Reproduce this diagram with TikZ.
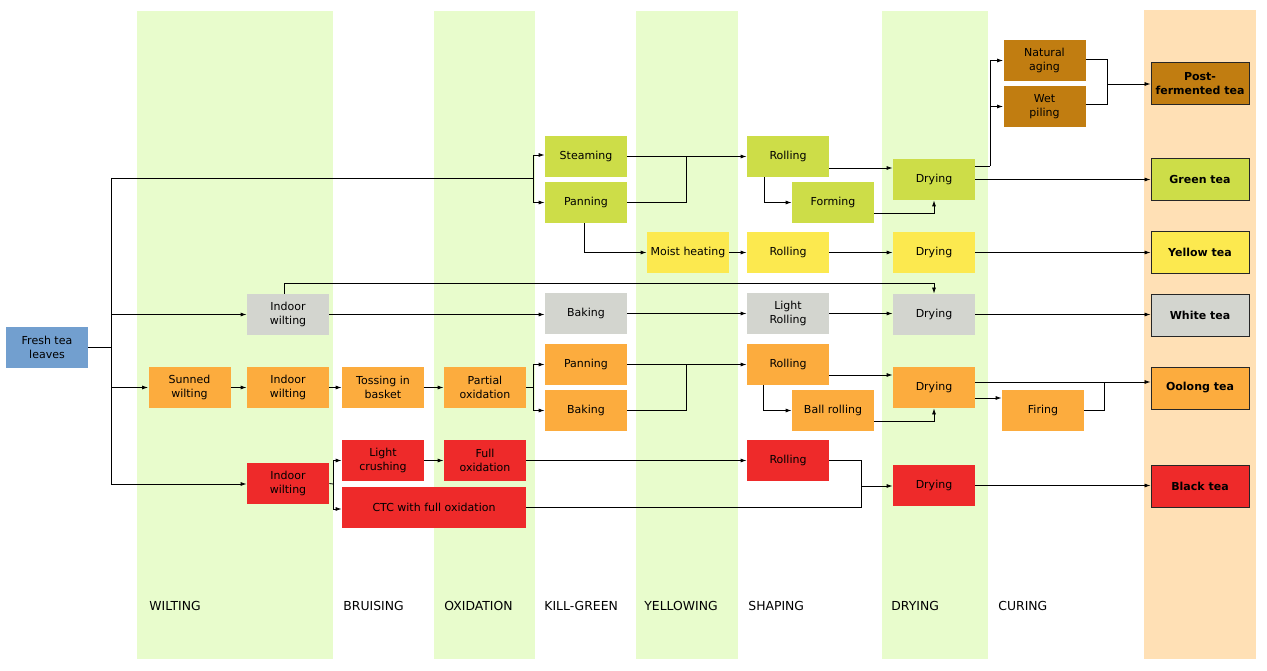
\documentclass[tikz,border=0pt]{standalone}
\usepackage{fontspec}
\setmainfont{DejaVu Sans}
\usetikzlibrary{arrows.meta,calc}
\definecolor{band}{RGB}{232,252,204}
\definecolor{bandend}{RGB}{255,224,181}
\definecolor{cg}{RGB}{205,221,72}
\definecolor{cy}{RGB}{252,233,79}
\definecolor{cw}{RGB}{211,213,207}
\definecolor{co}{RGB}{252,172,62}
\definecolor{cr}{RGB}{238,42,42}
\definecolor{cbr}{RGB}{193,125,17}
\definecolor{cbl}{RGB}{114,159,207}
\begin{document}
\begin{tikzpicture}[x=1pt,y=-1pt,
  box/.style={minimum width=82pt,minimum height=41pt,inner sep=0pt,align=center,
    font=\fontsize{11}{14}\selectfont},
  final/.style={box,minimum width=98pt,minimum height=42pt,draw=black!85,line width=0.9pt,
    font=\fontsize{11}{14}\selectfont\bfseries},
  arr/.style={-{Latex[length=6pt,width=4pt]}},
  lab/.style={anchor=base west,inner sep=0pt,font=\fontsize{12.4}{14}\selectfont},
  every path/.style={line width=0.8pt}]
\useasboundingbox (0,0) rectangle (1267,671);
% bands
\fill[band] (137,11) rectangle (333,659);
\fill[band] (434,11) rectangle (535,659);
\fill[band] (636,11) rectangle (738,659);
\fill[band] (882,11) rectangle (988,659);
\fill[bandend] (1144,10) rectangle (1256,659);
% stage labels
\node[lab] (lw) at (149,610) {WILTING};
\node[lab] (lb) at (343,610) {BRUISING};
\node[lab] (lo) at (444,610) {OXIDATION};
\node[lab] (lk) at (544,610) {KILL-GREEN};
\node[lab] (ly) at (644,610) {YELLOWING};
\node[lab] (ls) at (748,610) {SHAPING};
\node[lab] (ld) at (891,610) {DRYING};
\node[lab] (lc) at (998,610) {CURING};
% nodes
\node[box,fill=cbl] (fresh) at (47,347) {Fresh tea\\leaves};
% green
\node[box,fill=cg] (steamG) at (586,156.5) {Steaming};
\node[box,fill=cg] (panG) at (586,202.5) {Panning};
\node[box,fill=cg] (rolG) at (788,156.5) {Rolling};
\node[box,fill=cg] (formG) at (833,202.5) {Forming};
\node[box,fill=cg] (dryG) at (934,179.5) {Drying};
\node[final,fill=cg] (green) at (1200,179) {Green tea};
% brown
\node[box,fill=cbr] (natB) at (1044.5,60.5) {Natural\\aging};
\node[box,fill=cbr] (wetB) at (1044.5,106.5) {Wet\\piling};
\node[final,fill=cbr] (post) at (1200,83.5) {Post-\\fermented tea};
% yellow
\node[box,fill=cy] (moistY) at (688,252.5) {Moist heating};
\node[box,fill=cy] (rolY) at (788,252.5) {Rolling};
\node[box,fill=cy] (dryY) at (934,252.5) {Drying};
\node[final,fill=cy] (yellow) at (1200,252) {Yellow tea};
% white
\node[box,fill=cw] (wiW) at (288,314.5) {Indoor\\wilting};
\node[box,fill=cw] (bakW) at (586,313.5) {Baking};
\node[box,fill=cw] (lrolW) at (788,313.5) {Light\\Rolling};
\node[box,fill=cw] (dryW) at (934,314.5) {Drying};
\node[final,fill=cw] (white) at (1200,315) {White tea};
% oolong
\node[box,fill=co] (sunO) at (189.5,387.5) {Sunned\\wilting};
\node[box,fill=co] (wiO) at (288,387.5) {Indoor\\wilting};
\node[box,fill=co] (tossO) at (383,387.5) {Tossing in\\basket};
\node[box,fill=co] (partO) at (485,387.5) {Partial\\oxidation};
\node[box,fill=co] (panO) at (586,364.5) {Panning};
\node[box,fill=co] (bakO) at (586,410.5) {Baking};
\node[box,fill=co] (rolO) at (788,364.5) {Rolling};
\node[box,fill=co] (ballO) at (833,410.5) {Ball rolling};
\node[box,fill=co] (dryO) at (934,387.5) {Drying};
\node[box,fill=co] (firO) at (1043,410.5) {Firing};
\node[final,fill=co] (oolong) at (1200,388) {Oolong tea};
% black
\node[box,fill=cr] (wiR) at (288,483.5) {Indoor\\wilting};
\node[box,fill=cr] (crushR) at (383,460.5) {Light\\crushing};
\node[box,fill=cr,minimum width=184pt] (ctcR) at (434,507) {CTC with full oxidation};
\node[box,fill=cr] (fullR) at (485,460.5) {Full\\oxidation};
\node[box,fill=cr] (rolR) at (788,460.5) {Rolling};
\node[box,fill=cr] (dryR) at (934,485.5) {Drying};
\node[final,fill=cr] (black) at (1200,486) {Black tea};
% coordinates
\coordinate (ttop) at (111,178);
\coordinate (tbot) at (111,484);
\coordinate (sg) at (533,178);
\coordinate (gj) at (686,0);
\coordinate (bj) at (990,166);
\coordinate (pj) at (1107,84);
\coordinate (oj) at (533,387.5);
\coordinate (fj) at (1104,382);
\coordinate (rj) at (333,484);
\coordinate (bk) at (861,486);
% trunk
\draw (ttop) -- (tbot);
\draw (fresh.east) -- (fresh.east -| ttop);
\draw[arr] (wiW.west -| ttop) -- (wiW.west);
\draw[arr] (sunO.west -| ttop) -- (sunO.west);
\draw[arr] (tbot) -- (tbot -| wiR.west);
% green
\draw (ttop) -- (sg);
\draw[arr] (sg) |- ([yshift=1.5pt]steamG.west);
\draw[arr] (sg) |- (panG.west);
\draw[arr] (steamG.east) -- (rolG.west);
\draw (panG.east) -| (gj |- steamG.east);
\draw[arr] ([xshift=-2pt]panG.south) |- (moistY.west);
\draw[arr] ([yshift=-11.5pt]rolG.east) -- ([yshift=-11.5pt]rolG.east -| dryG.west);
\draw[arr] ([xshift=-24pt]rolG.south) |- (formG.west);
\draw[arr] ([yshift=-10.5pt]formG.east) -| (dryG.south);
\draw[arr] (dryG.east) -- (dryG.east -| green.west);
\draw ([yshift=13.5pt]dryG.east) -- (bj);
\draw[arr] (bj) |- (natB.west);
\draw[arr] (bj) |- (wetB.west);
\draw ([yshift=1.5pt]natB.east) -| (pj);
\draw ([yshift=2.5pt]wetB.east) -| (pj);
\draw[arr] (pj) -- (pj -| post.west);
% yellow
\draw[arr] (moistY) -- (rolY);
\draw[arr] (rolY) -- (dryY);
\draw[arr] (dryY.east) -- (dryY.east -| yellow.west);
% white
\draw[arr] (wiW.east) -- (wiW.east -| bakW.west);
\draw[arr] ([xshift=-4pt]wiW.north) |- ([yshift=10pt]dryW.north) -- (dryW.north);
\draw[arr] (bakW) -- (lrolW);
\draw[arr] (lrolW.east) -- (lrolW.east -| dryW.west);
\draw[arr] (dryW.east) -- (dryW.east -| white.west);
% oolong
\draw[arr] (sunO) -- (wiO);
\draw[arr] (wiO) -- (tossO);
\draw[arr] (tossO) -- (partO);
\draw (partO.east) -- (oj);
\draw[arr] (oj) |- (panO.west);
\draw[arr] (oj) |- (bakO.west);
\draw[arr] (panO) -- (rolO);
\draw (bakO.east) -| (gj |- panO.east);
\draw[arr] ([yshift=-10.5pt]rolO.east) -- ([yshift=-10.5pt]rolO.east -| dryO.west);
\draw[arr] ([xshift=-25pt]rolO.south) |- (ballO.west);
\draw[arr] ([yshift=-10.5pt]ballO.east) -| (dryO.south);
\draw[arr] ([yshift=5.5pt]dryO.east) -- ([yshift=5.5pt]dryO.east -| oolong.west);
\draw[arr] ([yshift=-10.5pt]dryO.east) -- ([yshift=-10.5pt]dryO.east -| firO.west);
\draw (firO.east) -| (fj);
% black
\draw (wiR.east) -- (rj);
\draw[arr] (rj) |- (crushR.west);
\draw[arr] (rj) |- ([yshift=-2pt]ctcR.west);
\draw[arr] (crushR) -- (fullR);
\draw[arr] (fullR) -- (rolR);
\draw (rolR.east) -| (bk);
\draw (ctcR.east) -| (bk);
\draw[arr] (bk) -- (bk -| dryR.west);
\draw[arr] (dryR.east) -- (dryR.east -| black.west);
\end{tikzpicture}
\end{document}
